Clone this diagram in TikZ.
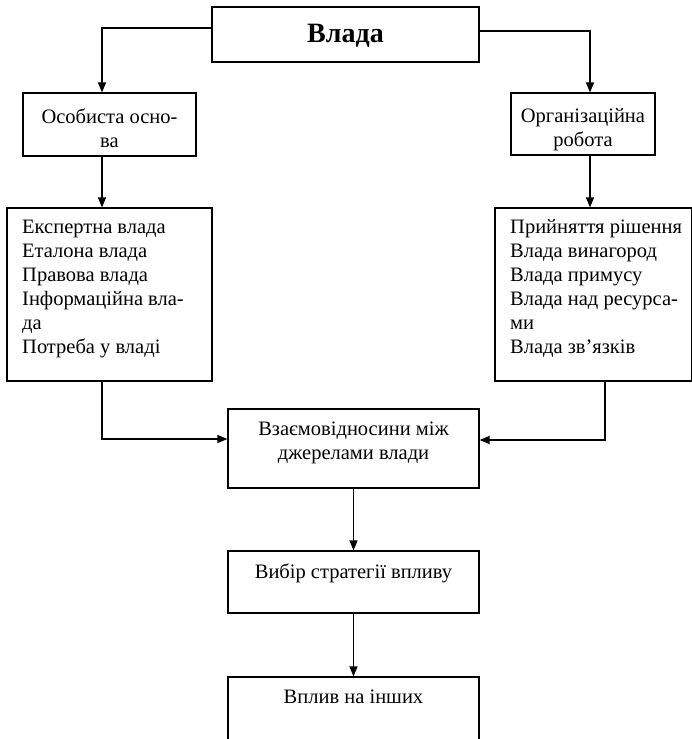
\documentclass[tikz,border=0pt]{standalone}
\usepackage{fontspec}
\setmainfont{Liberation Serif}
\usetikzlibrary{arrows.meta}
\tikzset{
  box/.style={draw, line width=1.2pt, rectangle, inner sep=0pt},
  txt/.style={inner sep=0pt, font=\fontsize{20.5}{24}\selectfont},
  arr/.style={line width=1.2pt, -{Triangle[length=10pt,width=8pt]}},
  ln/.style={line width=1.2pt}
}
\begin{document}
\begin{tikzpicture}[x=1pt,y=-1pt]
\useasboundingbox (0,0) rectangle (692,739);
\clip (0,0) rectangle (692,739);
% boxes
\node[box, minimum width=267pt, minimum height=55pt] (vlada) at (345.5,34.5) {};
\node[box, minimum width=173pt, minimum height=63pt] (osob) at (109.5,124.5) {};
\node[box, minimum width=144pt, minimum height=62pt] (org) at (583,124) {};
\node[box, minimum width=205pt, minimum height=173pt] (lst1) at (109.5,294.5) {};
\node[box, minimum width=197pt, minimum height=173pt] (lst2) at (593.5,294.5) {};
\node[box, minimum width=251pt, minimum height=79pt] (rel) at (353.5,448.5) {};
\node[box, minimum width=251pt, minimum height=62pt] (choice) at (353.5,582) {};
\node[box, minimum width=251pt, minimum height=90pt] (infl) at (353.5,722) {};
% texts
\node[inner sep=0pt, anchor=base, font=\fontsize{28}{32}\selectfont\bfseries] (vladat) at (345.5,42) {Влада};
\node[txt, anchor=base] (osobt) at (109.5,123) {\begin{tabular}[t]{@{}c@{}}Особиста осно-\\ва\end{tabular}};
\node[txt, anchor=base] (orgt) at (583,122) {\begin{tabular}[t]{@{}c@{}}Організаційна\\робота\end{tabular}};
\node[txt, anchor=base west] (lst1t) at (22,233) {\begin{tabular}[t]{@{}l@{}}Експертна влада\\Еталона влада\\Правова влада\\Інформаційна вла-\\да\\Потреба у владі\end{tabular}};
\node[txt, anchor=base west] (lst2t) at (510,233) {\begin{tabular}[t]{@{}l@{}}Прийняття рішення\\Влада винагород\\Влада примусу\\Влада над ресурса-\\ми\\Влада зв’язків\end{tabular}};
\node[txt, anchor=base] (relt) at (353.5,435) {\begin{tabular}[t]{@{}c@{}}Взаємовідносини між\\джерелами влади\end{tabular}};
\node[txt, anchor=base] (choicet) at (353.5,578) {Вибір стратегії впливу};
\node[txt, anchor=base] (inflt) at (353.5,703) {Вплив на інших};
% connectors
\coordinate (c1) at (102,28);
\coordinate (c2) at (590,31);
\coordinate (c3) at (102,439);
\coordinate (c4) at (605,440);
\draw[arr] (vlada.west |- c1) -- (c1) -- (c1 |- osob.north);
\draw[arr] (vlada.east |- c2) -- (c2) -- (c2 |- org.north);
\draw[arr] (c1 |- osob.south) -- (c1 |- lst1.north);
\draw[arr] (c2 |- org.south) -- (c2 |- lst2.north);
\draw[arr] (c3 |- lst1.south) -- (c3) -- (rel.west |- c3);
\draw[arr] (c4 |- lst2.south) -- (c4) -- (rel.east |- c4);
\draw[arr] (rel.south) -- (choice.north);
\draw[arr] (choice.south) -- (infl.north);
\end{tikzpicture}
\end{document}
